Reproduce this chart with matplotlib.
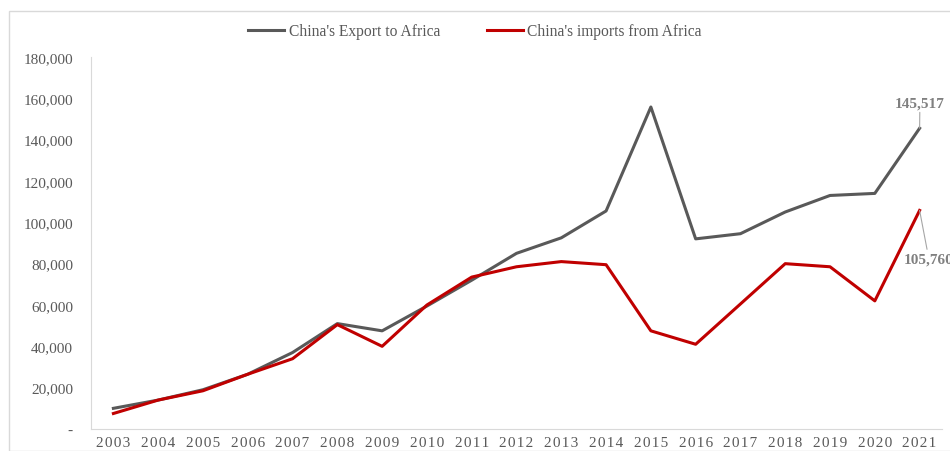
import numpy as np
import matplotlib.pyplot as plt
from matplotlib.patches import Rectangle
from matplotlib.ticker import FuncFormatter

years = list(range(2003, 2022))
exports = [10000, 14000, 19000, 26500, 37000, 51000, 47500, 59500, 72000, 85000,
           92500, 105500, 155800, 92000, 94500, 105000, 113000, 114000, 145517]
imports = [7500, 14000, 18500, 26500, 34000, 50500, 40000, 60000, 73500, 78500,
           81000, 79500, 47500, 41000, 60500, 80000, 78500, 62000, 105760]

plt.rcParams['font.family'] = ['Liberation Serif', 'DejaVu Serif']

fig = plt.figure(figsize=(9.5, 4.52), dpi=100)
# outer chart border
fig.patches.append(Rectangle((9 / 950, 0.0), 1.2, 1 - 12 / 452, transform=fig.transFigure,
                             fill=False, edgecolor='#d9d9d9', linewidth=1))
ax = fig.add_axes([91 / 950, 22 / 452, 851 / 950, 372 / 452])

x = np.arange(len(years))
ax.plot(x, exports, color='#595959', lw=2.2, label="China's Export to Africa")
ax.plot(x, imports, color='#c00000', lw=2.2, label="China's imports from Africa")

ax.set_xlim(-0.5, len(years) - 0.5)
ax.set_ylim(0, 180000)
ax.set_yticks(np.arange(0, 180001, 20000))
ax.yaxis.set_major_formatter(FuncFormatter(lambda v, p: '-' if v == 0 else f'{int(v):,}'))
ax.set_xticks(x)
ax.set_xticklabels(['\u200a'.join(str(y)) for y in years])
ax.tick_params(axis='both', length=0, colors='#595959', labelsize=11)
ax.tick_params(axis='y', pad=13)
ax.tick_params(axis='x', pad=5)
for s in ['top', 'right']:
    ax.spines[s].set_visible(False)
for s in ['left', 'bottom']:
    ax.spines[s].set_color('#d9d9d9')

ax.annotate(f'{exports[-1]:,}', xy=(x[-1], exports[-1]), xytext=(x[-1] - 0.55, exports[-1] + 10500),
            fontsize=11, fontweight='bold', color='#808080', annotation_clip=False,
            arrowprops=dict(arrowstyle='-', color='#a6a6a6', lw=0.8, shrinkA=0, shrinkB=0))
ax.annotate(f'{imports[-1]:,}', xy=(x[-1], imports[-1]), xytext=(x[-1] - 0.35, imports[-1] - 25000),
            fontsize=11, fontweight='bold', color='#808080', annotation_clip=False,
            arrowprops=dict(arrowstyle='-', color='#a6a6a6', lw=0.8, shrinkA=0, shrinkB=0))

fig.legend(loc='center', bbox_to_anchor=(0.5, 1 - 32 / 452), ncol=2, frameon=False,
           fontsize=11.2, labelcolor='#595959', handlelength=2.3, columnspacing=3.0,
           handletextpad=0.3)

fig.savefig('out.png', dpi=100)
